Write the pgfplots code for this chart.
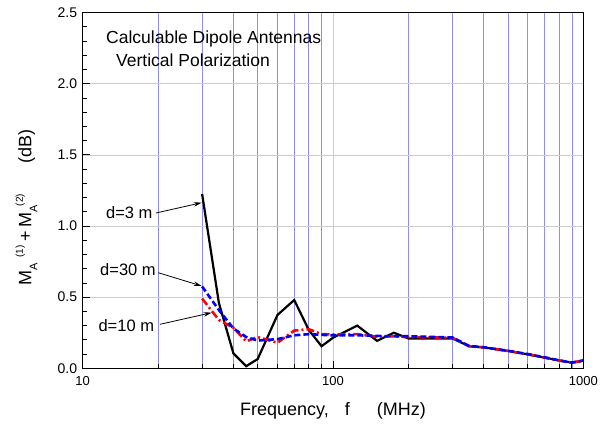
\documentclass[border=0pt]{standalone}
\usepackage{fontspec}
\setmainfont{Liberation Sans}
\usepackage{pgfplots}
\pgfplotsset{compat=1.18}
\usetikzlibrary{arrows.meta}
\definecolor{gridblue}{RGB}{140,140,255}
\definecolor{gridgray}{RGB}{205,205,205}
\newcommand{\lsub}[1]{\raisebox{-6.2pt}{\fontsize{11}{11}\selectfont #1}}
\newcommand{\lsup}[1]{\raisebox{8.5pt}{\fontsize{10}{10}\selectfont #1}}
\begin{document}
\begin{tikzpicture}
\begin{axis}[
  scale only axis, width=500.6pt, height=355.6pt,
  xmode=log, xmin=10, xmax=1000, ymin=0, ymax=2.5,
  xtick={10,100,1000}, xticklabels={10,100,1000},
  ytick={0,0.5,1,1.5,2,2.5}, minor y tick num=4,
  /pgf/number format/assume math mode=true,
  yticklabel style={/pgf/number format/fixed, /pgf/number format/fixed zerofill, /pgf/number format/precision=1, font=\fontsize{14}{14}\selectfont, xshift=-2pt},
  xticklabel style={font=\fontsize{13}{13}\selectfont, yshift=-5pt},
  tick pos=left, tick align=inside,
  major tick length=7.5pt, minor tick length=4.5pt,
  every tick/.style={black, line width=0.9pt},
  axis line style={line width=1.3pt},
  xmajorgrids, xminorgrids, ymajorgrids,
  major grid style={gridgray, line width=0.8pt},
  minor grid style={gridblue, line width=0.7pt},
  xlabel={Frequency,\hspace{0.9em}f\hspace{1.5em}(MHz)},
  xlabel style={at={(axis description cs:0.5,-0.1192)}, anchor=center, font=\fontsize{18}{18}\selectfont},
  ylabel={M\lsub{A}\hspace{5pt}\lsup{(1)}\hspace{4pt}+\hspace{4pt}M\rlap{\lsub{A}}\hspace{6pt}\lsup{(2)}\hspace{30pt}(dB)},
  ylabel style={at={(axis description cs:-0.1123,0.452)}, anchor=center, font=\fontsize{18}{18}\selectfont},
]
\addplot[black, line width=2.2pt] coordinates {
 (30,1.225) (35,0.46) (40,0.105) (45,0.015) (50,0.065) (60,0.375) (70,0.48)
 (80,0.27) (90,0.155) (100,0.215) (125,0.30) (150,0.193) (175,0.25) (200,0.21)
 (300,0.21) (350,0.155) (400,0.147) (500,0.122) (600,0.098) (700,0.075)
 (800,0.055) (900,0.04) (1000,0.054)};
\addplot[red, line width=2.6pt, dash pattern=on 8pt off 3pt on 2pt off 3pt] coordinates {
 (30,0.49) (35,0.34) (40,0.285) (45,0.19) (50,0.22) (60,0.18) (70,0.265)
 (80,0.275) (90,0.24) (100,0.238) (125,0.24) (150,0.222) (175,0.225) (200,0.22)
 (300,0.215) (350,0.155) (400,0.147) (500,0.122) (600,0.099) (700,0.076)
 (800,0.055) (900,0.04) (1000,0.054)};
\addplot[blue, line width=2.6pt, dash pattern=on 6pt off 3pt] coordinates {
 (30,0.575) (35,0.41) (40,0.28) (45,0.22) (50,0.195) (60,0.205) (70,0.232)
 (80,0.24) (90,0.235) (100,0.232) (125,0.232) (150,0.228) (175,0.225) (200,0.225)
 (300,0.217) (350,0.157) (400,0.148) (500,0.123) (600,0.1) (700,0.077)
 (800,0.056) (900,0.04) (1000,0.055)};
\node[anchor=west, inner sep=0pt, font=\fontsize{17.5}{17.5}\selectfont] at (rel axis cs:0.0465,0.926) {Calculable Dipole Antennas};
\node[anchor=west, inner sep=0pt, font=\fontsize{17.5}{17.5}\selectfont] at (rel axis cs:0.0665,0.867) {Vertical Polarization};
\node[anchor=west, inner sep=0pt, font=\fontsize{16.5}{16.5}\selectfont] at (rel axis cs:0.0465,0.4367) {d=3 m};
\node[anchor=west, inner sep=0pt, font=\fontsize{16.5}{16.5}\selectfont] at (rel axis cs:0.0346,0.2784) {d=30 m};
\node[anchor=west, inner sep=0pt, font=\fontsize{16.5}{16.5}\selectfont] at (rel axis cs:0.0312,0.1198) {d=10 m};
\draw[-{Stealth[length=8pt,width=4.5pt]}, line width=0.8pt] (rel axis cs:0.1464,0.4367) -- (rel axis cs:0.2377,0.4657);
\draw[-{Stealth[length=8pt,width=4.5pt]}, line width=0.8pt] (rel axis cs:0.151,0.2688) -- (rel axis cs:0.2377,0.2314);
\draw[-{Stealth[length=8pt,width=4.5pt]}, line width=0.8pt] (rel axis cs:0.1544,0.1237) -- (rel axis cs:0.2577,0.1564);
\node[inner sep=0pt, font=\fontsize{5}{5}\selectfont] at (rel axis cs:0.9635,1.0132) {MS\_VP};
\end{axis}
\path ([shift={(-82.7pt,-58.7pt)}]current axis.south west) rectangle ([shift={(25.7pt,12.7pt)}]current axis.north east);
\end{tikzpicture}
\end{document}
